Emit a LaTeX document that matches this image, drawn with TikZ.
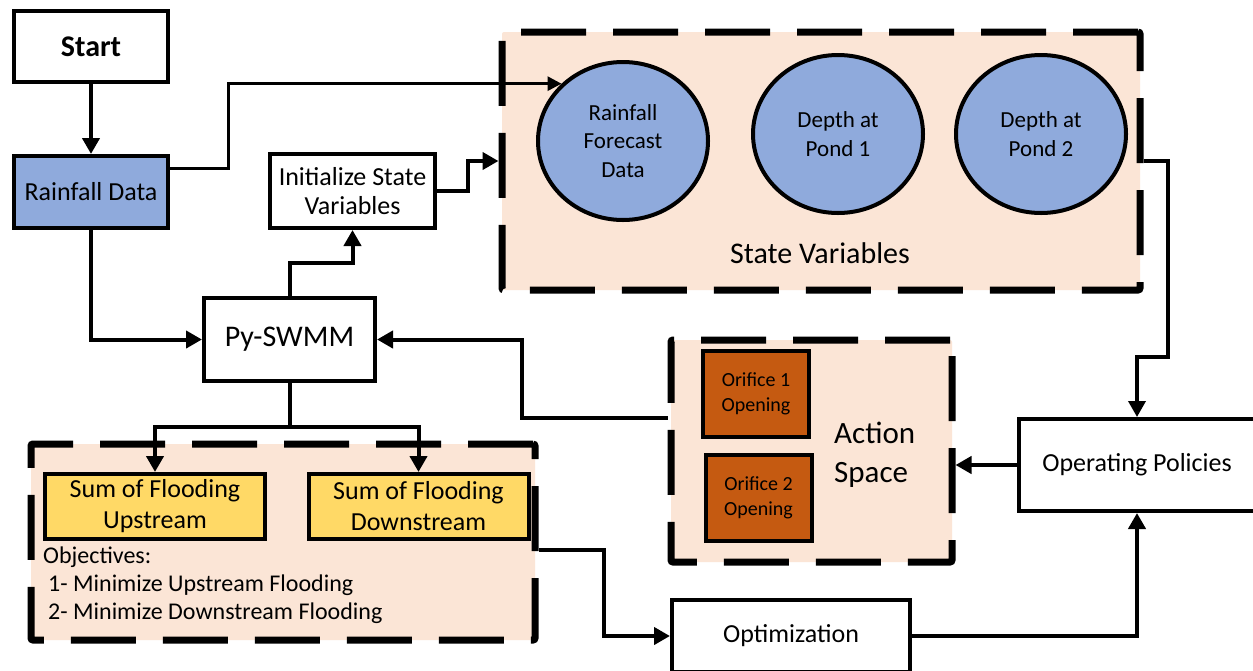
\documentclass[tikz,border=0pt]{standalone}
\usepackage{fontspec}
\setmainfont{Carlito}
\usetikzlibrary{arrows.meta,shapes.geometric,calc}
\definecolor{peach}{HTML}{FBE5D6}
\definecolor{skyblue}{HTML}{8FAADC}
\definecolor{gold}{HTML}{FFD966}
\definecolor{rust}{HTML}{C55A11}
\tikzset{
  box/.style={draw, line width=4pt, rectangle, align=center, inner sep=2pt, fill=white},
  group/.style={draw, line width=7pt, fill=peach, dash pattern=on 65pt off 27pt, rounded corners=2pt},
  statevar/.style={draw, line width=4pt, ellipse, fill=skyblue, minimum width=170pt,
    minimum height=158pt, align=center, inner sep=0pt, font=\fontsize{23}{28.5}\selectfont},
  flood/.style={box, fill=gold, minimum width=220pt, minimum height=65pt, font=\fontsize{26}{31}\selectfont},
  orifice/.style={box, fill=rust, minimum width=106pt, minimum height=86pt, font=\fontsize{20}{25}\selectfont},
  link/.style={line width=4pt, -{Triangle[length=16pt,width=17pt]}},
  thinlink/.style={line width=3pt, -{Triangle[length=14pt,width=14pt]}},
}
\begin{document}
\begin{tikzpicture}[x=1pt,y=-1pt]
\useasboundingbox (0,0) rectangle (1253,670);
\fill[white] (0,0) rectangle (1253,670);

% grouping panels
\node[group, minimum width=638pt, minimum height=258pt] (statebox) at (821,161) {};
\node[group, minimum width=281pt, minimum height=222pt] (action) at (811.5,451) {};
\node[group, minimum width=504pt, minimum height=196pt] (objbox) at (283,542) {};

% process boxes
\node[box, minimum width=154pt, minimum height=71pt, font=\fontsize{30}{36}\selectfont\bfseries] (start) at (91,46.5) {Start};
\node[box, fill=skyblue, minimum width=154pt, minimum height=72pt, font=\fontsize{26}{31}\selectfont] (rain) at (91,192) {Rainfall Data};
\node[box, minimum width=165pt, minimum height=74pt, font=\fontsize{26}{29}\selectfont] (init) at (352.5,191) {Initialize State\\Variables};
\node[box, minimum width=171pt, minimum height=83pt, font=\fontsize{30}{36}\selectfont] (pyswmm) at (289.5,339.5) {Py-SWMM};
\node[box, minimum width=236pt, minimum height=92pt, font=\fontsize{26}{31}\selectfont] (oppol) at (1137,465) {Operating Policies};
\node[box, minimum width=238pt, minimum height=72pt, font=\fontsize{26}{31}\selectfont] (opt) at (791,636) {Optimization};

% state variables
\node[statevar] (e1) at (623,141) {Rainfall\\Forecast\\Data};
\node[statevar] (e2) at (838,134) {Depth at\\Pond 1};
\node[statevar] (e3) at (1041,134) {Depth at\\Pond 2};
\node[font=\fontsize{30}{36}\selectfont] (statelbl) at (820,253) {State Variables};

% action space
\node[orifice] (ori1) at (756,393.5) {Orifice 1\\Opening};
\node[orifice] (ori2) at (758.5,498) {Orifice 2\\Opening};
\node[anchor=west, align=left, font=\fontsize{31}{39}\selectfont, inner sep=0pt] (actlbl) at (834,455) {Action\\Space};

% objectives
\node[flood] (up) at (155,506.5) {Sum of Flooding\\Upstream};
\node[flood] (down) at (418.5,506.5) {Sum of Flooding\\Downstream};
\node[anchor=north west, align=left, inner sep=0pt, font=\fontsize{24}{28}\selectfont] (objtxt) at (43,547)
  {Objectives:\\\hspace*{5pt}1- Minimize Upstream Flooding\\\hspace*{5pt}2- Minimize Downstream Flooding};

% connectors
\draw[link] (start) -- (rain);
\draw[thinlink] ([yshift=24pt]rain.east) -- ++(58,0) |- (e1.137);
\draw[link] (rain.south) |- (pyswmm.west);
\draw[link] (init.east) -- ++(31,0) |- (statebox.west);
\draw[link] (pyswmm.north) -- ++(0,-33) -| (init.south);
\draw[link] (pyswmm.south) -- ++(0,44) -| (up.north);
\draw[link] (pyswmm.south) -- ++(0,44) -| (down.north);
\coordinate (jog) at (1168,357);
\draw[line width=3.5pt, -{Triangle[length=16pt,width=17pt]}] (statebox.east) -| (jog) -| (oppol.north);
\draw[link] (oppol.west) -- (oppol.west -| action.east);
\draw[link] ([yshift=33pt]action.west) -- ++(-146,0) |- (pyswmm.east);
\draw[link] ([yshift=-8pt]objbox.east) -- ++(65,0) |- (opt.west);
\draw[link] (opt.east) -| (oppol.south);
\end{tikzpicture}
\end{document}
